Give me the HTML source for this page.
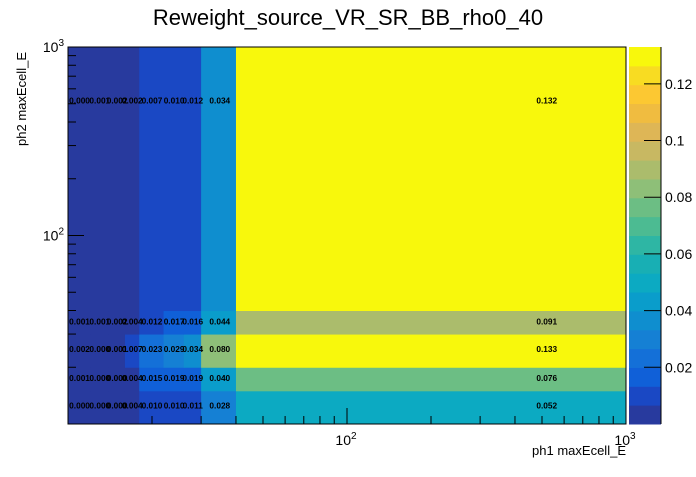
<!DOCTYPE html>
<html><head><meta charset="utf-8"><style>
body{margin:0;background:#fff;width:696px;height:472px;overflow:hidden}
svg{font-family:"Liberation Sans",sans-serif}
</style></head><body>
<svg id="chart" width="696" height="472" xmlns="http://www.w3.org/2000/svg">
<text x="348" y="25" font-size="22" text-anchor="middle">Reweight_source_VR_SR_BB_rho0_40</text>
<g id="cells"></g>
<g id="labels"></g>
<g id="axes"></g>
<g id="pal"></g>
<text x="26" y="52" font-size="13" text-anchor="end" transform="rotate(-90 26 52)">ph2 maxEcell_E</text>
</svg>
<script>
const xEdges=[10,12,14,16,18,22,26,30,40,1000];
const yEdges=[10,15,20,30,40,1000];
const values=[
 [0.000,0.000,0.000,0.004,0.010,0.010,0.011,0.028,0.052],
 [0.001,0.000,0.000,0.004,0.015,0.019,0.019,0.040,0.076],
 [0.002,0.000,0.001,0.007,0.023,0.029,0.034,0.080,0.133],
 [0.001,0.001,0.002,0.004,0.012,0.017,0.016,0.044,0.091],
 [0.000,0.001,0.002,0.002,0.007,0.010,0.012,0.034,0.132]
];
const zTicks=[0.02,0.04,0.06,0.08,0.1,0.12];
const zMax=0.133;
const colors=["#283a9e","#1a48c4","#1060d8","#1470d8","#1580d4","#0f8ecf","#0a9dcb","#0caac2","#18afb4","#2eb6a4","#4cbb92","#6cbe84","#8ebf78","#abbc6c","#c8b862","#deb656","#f0bc40","#fcc832","#f8dc22","#f8f80c"];
const L=68,R=626,T=47,B=424;
const X=v=>L+(R-L)*Math.log10(v/10)/2;
const Y=v=>B-(B-T)*Math.log10(v/10)/2;
const NS="http://www.w3.org/2000/svg";
function mk(t,a,p){const e=document.createElementNS(NS,t);for(const k in a)e.setAttribute(k,a[k]);p.appendChild(e);return e;}
function col(v){let i=Math.floor(v/zMax*colors.length);return colors[Math.max(0,Math.min(colors.length-1,i))];}
const cg=document.getElementById('cells'),lg=document.getElementById('labels');
values.forEach((row,j)=>row.forEach((v,i)=>{
 const x0=X(xEdges[i]),x1=X(xEdges[i+1]),y0=Y(yEdges[j+1]),y1=Y(yEdges[j]);
 const r=mk('rect',{x:x0,y:y0,width:x1-x0+0.5,height:y1-y0+0.5,fill:col(v)},cg);
 
 
 const t=mk('text',{x:X((xEdges[i]+xEdges[i+1])/2),y:Y((yEdges[j]+yEdges[j+1])/2)+3,'font-size':8.3,'text-anchor':'middle','font-weight':'bold'},lg);
 t.textContent=v.toFixed(3);
 
 
}));
const ag=document.getElementById('axes');
mk('rect',{x:L,y:T,width:R-L,height:B-T,fill:'none',stroke:'#000','stroke-width':1},ag);
for(let d=10;d<=1000;d*=10)for(let m=1;m<10;m++){const v=d*m;if(v<10||v>1000)continue;
 const big=m===1, lx=X(v), ly=Y(v);
 mk('line',{x1:lx,x2:lx,y1:B,y2:B-(big?16:8),stroke:'#000'},ag);
 mk('line',{x1:L,x2:L+(big?16:8),y1:ly,y2:ly,stroke:'#000'},ag);
}
[[100,'2'],[1000,'3']].forEach(([v,e])=>{
 const t=mk('text',{x:X(v)-1,y:B+21,'font-size':14,'text-anchor':'middle'},ag);t.innerHTML='10<tspan dy="-6" font-size="10">'+e+'</tspan>';
 
 const u=mk('text',{x:L-4,y:Y(v)+5,'font-size':14,'text-anchor':'end'},ag);u.innerHTML='10<tspan dy="-6" font-size="10">'+e+'</tspan>';
 
});
const xt=mk('text',{x:626,y:455,'font-size':13,'text-anchor':'end'},ag);xt.textContent='ph1 maxEcell_E';

const pg=document.getElementById('pal');
const PL=629,PR=661,PB=424,PT=47;
const Z=v=>PB-(PB-PT)*v/zMax;
colors.forEach((c,i)=>{const r=mk('rect',{x:PL,y:Z((i+1)*zMax/colors.length),width:PR-PL,height:(PB-PT)/colors.length+0.5,fill:c},pg);
 });
mk('line',{x1:PR,x2:PR,y1:PT,y2:PB,stroke:'#000'},pg);
zTicks.forEach(v=>{mk('line',{x1:PR-17,x2:PR,y1:Z(v),y2:Z(v),stroke:'#000'},pg);
 const t=mk('text',{x:PR+4,y:Z(v)+5,'font-size':14},pg);t.textContent=String(v);
 });
</script>
</body></html>
